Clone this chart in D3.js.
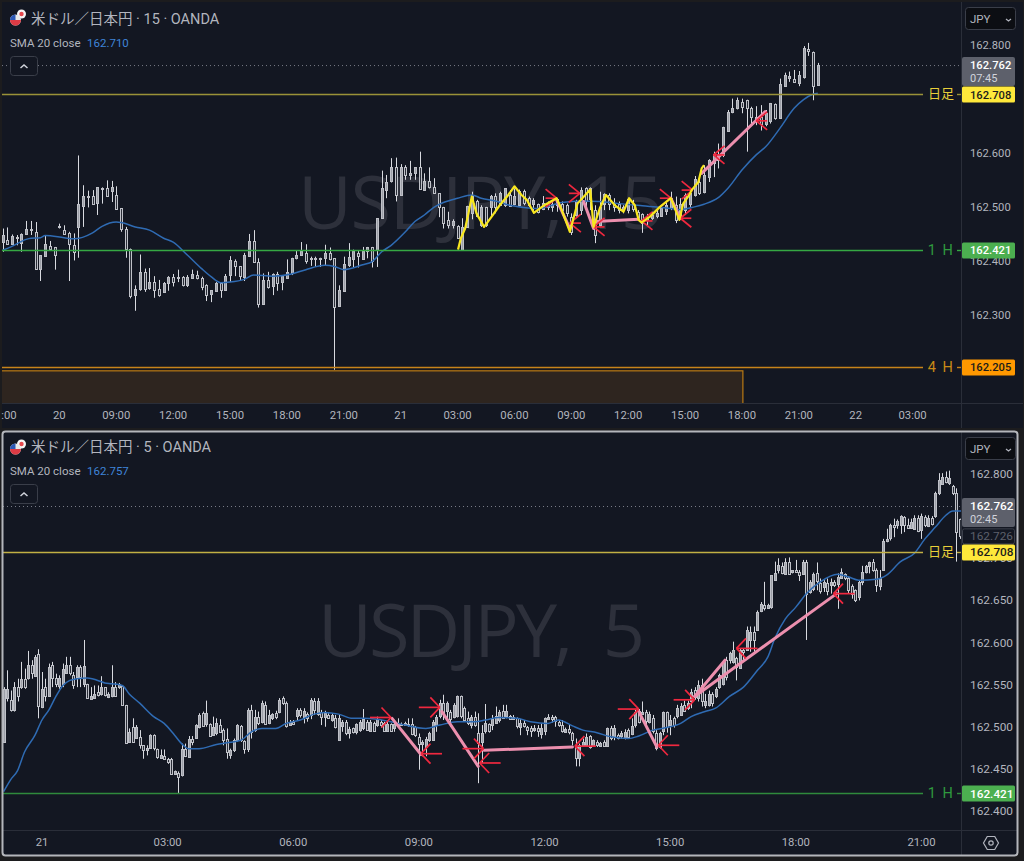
<!DOCTYPE html>
<html><head><meta charset="utf-8">
<script src="https://cdn.jsdelivr.net/npm/d3@7/dist/d3.min.js"></script>
<style>html,body{margin:0;padding:0;background:#1c1c1e}svg{display:block}
text{font-family:Roboto,"Noto Sans CJK JP",sans-serif}</style></head><body>
<script>
// all prices are thousandths above 162.000: [open, high, low, close]
const bars15=[[435,460,417,448],[438,462,431,431],[432,449,432,446],[445,448,429,443],[432,451,417,449],[450,474,448,460],[458,474,448,459],[454,472,384,386],[386,411,363,411],[409,448,408,432],[427,437,419,422],[425,426,384,411],[463,469,460,465],[458,466,450,451],[451,454,363,430],[430,451,401,417],[463,595,406,506],[501,540,463,520],[518,530,499,520],[520,531,505,505],[506,536,485,536],[534,536,506,533],[534,549,520,520],[528,548,509,536],[522,538,495,497],[497,497,454,458],[460,463,406,423],[423,423,331,337],[337,355,308,349],[349,412,345,380],[380,386,343,349],[349,387,347,361],[361,372,332,347],[349,365,334,337],[343,361,343,360],[360,372,345,371],[371,376,353,361],[369,384,361,371],[371,372,353,357],[357,374,352,371],[369,384,368,376],[374,382,366,368],[369,371,346,353],[355,357,326,337],[339,346,324,346],[345,361,343,360],[360,361,332,347],[347,376,346,373],[374,409,361,401],[400,403,372,390],[390,390,363,371],[371,415,363,411],[409,450,408,437],[437,457,398,398],[398,405,314,321],[321,377,320,365],[365,380,349,352],[353,377,337,376],[376,380,345,360],[360,374,346,372],[369,403,368,380],[377,406,374,405],[405,419,403,411],[411,435,411,419],[414,431,395,400],[405,408,391,406],[406,408,389,405],[405,406,389,403],[405,430,392,414],[414,425,401,403],[405,405,199,315],[317,355,315,347],[345,408,345,394],[393,433,389,407],[405,421,388,419],[414,419,388,408],[405,426,403,419],[417,426,405,425],[425,426,388,399],[420,479,389,479],[479,567,479,534],[532,559,516,546],[547,590,545,573],[573,591,510,522],[522,579,522,574],[573,577,550,559],[560,585,550,563],[562,573,550,573],[573,602,532,532],[532,562,532,548],[548,573,534,536],[536,553,525,525],[525,525,481,500],[499,500,460,470],[476,491,460,466],[466,477,460,474],[465,466,442,442],[420,479,420,463],[463,502,463,502],[488,528,477,522],[510,513,481,482],[466,503,463,499],[499,500,463,466],[500,522,482,520],[520,525,488,500],[503,528,503,526],[502,534,500,534],[522,531,500,502],[505,534,503,520],[505,532,500,530],[530,532,503,508],[516,519,500,503],[505,516,488,513],[505,506,488,491],[497,520,494,508],[508,510,494,500],[500,513,491,505],[502,516,491,514],[506,510,491,494],[503,506,482,488],[481,488,448,454],[485,513,482,510],[494,536,485,531],[534,536,494,510],[513,536,494,534],[494,503,433,448],[466,528,463,500],[506,525,494,524],[522,525,494,506],[505,516,491,500],[505,510,488,494],[494,503,488,500],[494,516,488,514],[505,513,491,495],[491,494,476,482],[487,488,452,471],[476,487,466,481],[479,491,476,485],[483,497,479,489],[483,500,482,497],[491,510,485,503],[497,528,494,516],[503,519,470,476],[481,516,476,506],[494,525,485,522],[505,528,500,525],[522,557,519,552],[546,559,522,525],[528,577,525,559],[555,588,546,586],[580,602,555,597],[596,617,571,586],[596,648,592,647],[641,679,639,676],[674,700,673,682],[682,702,680,697],[694,700,673,685],[697,698,602,682],[682,685,654,666],[666,686,651,663],[666,688,641,653],[653,679,649,673],[657,692,654,691],[690,691,661,665],[665,737,663,727],[723,748,723,743],[739,750,731,742],[737,753,729,731],[729,751,723,743],[739,797,737,793],[791,803,779,788],[787,787,697,725],[725,766,725,762]];
const bars5=[[482,547,482,545],[534,567,530,545],[532,543,518,520],[520,553,518,547],[547,557,530,536],[547,577,545,557],[557,569,545,547],[557,590,556,573],[573,579,557,563],[561,585,559,583],[586,592,510,524],[524,565,522,545],[547,557,530,536],[537,575,536,571],[573,577,547,557],[558,563,547,551],[549,561,545,558],[551,575,547,569],[563,583,563,573],[573,583,561,563],[561,565,545,549],[559,573,547,571],[571,573,547,559],[551,603,547,572],[551,551,534,534],[534,547,534,537],[534,549,534,539],[541,549,536,537],[539,560,537,547],[547,547,536,537],[535,541,534,539],[536,573,535,547],[547,553,536,536],[547,552,545,551],[548,549,526,526],[526,526,481,481],[482,498,481,494],[500,510,482,482],[487,502,487,500],[488,496,474,478],[478,478,462,472],[473,478,466,475],[474,491,474,490],[490,491,472,474],[473,474,462,463],[463,473,462,466],[465,473,462,462],[462,463,456,458],[462,463,443,444],[444,448,443,447],[445,447,421,440],[443,480,441,474],[474,480,464,466],[465,489,464,486],[486,489,478,483],[487,503,486,502],[500,516,498,514],[516,518,500,501],[503,531,500,516],[503,504,488,489],[490,512,489,500],[492,510,490,504],[502,509,493,494],[496,498,478,484],[486,498,462,470],[466,474,462,472],[472,486,470,484],[484,503,482,502],[501,502,482,484],[483,484,468,473],[474,522,470,520],[520,526,486,494],[496,520,494,512],[511,518,502,504],[505,531,504,528],[526,530,503,504],[505,520,503,514],[510,516,508,515],[516,519,509,511],[518,534,516,532],[534,536,526,528],[528,530,499,501],[503,508,502,506],[506,508,502,504],[513,522,508,520],[520,522,511,514],[512,522,504,519],[515,517,506,510],[514,534,509,532],[531,534,514,520],[516,534,513,531],[518,520,502,512],[511,519,500,516],[514,516,510,511],[508,516,506,514],[510,514,498,499],[484,514,484,510],[501,508,494,506],[506,508,490,493],[492,500,486,497],[498,499,492,493],[493,504,491,503],[496,508,494,506],[498,521,496,509],[506,508,495,497],[495,508,494,506],[505,506,494,495],[502,512,500,509],[506,508,499,502],[504,506,494,495],[495,506,494,503],[503,504,494,495],[498,508,494,503],[503,510,501,502],[502,505,501,503],[502,506,501,504],[503,510,500,502],[503,510,490,491],[500,501,488,490],[488,492,449,480],[480,484,465,482],[477,488,465,486],[484,494,482,492],[485,508,484,506],[501,514,494,511],[512,532,510,528],[528,538,508,516],[518,530,506,528],[518,520,500,510],[512,528,510,526],[512,537,511,536],[536,537,510,512],[522,524,506,508],[510,518,502,504],[502,514,498,512],[512,518,500,503],[492,516,433,480],[482,502,457,493],[494,527,492,504],[503,504,493,495],[502,514,496,509],[505,524,504,513],[508,520,505,518],[519,526,510,511],[513,526,510,519],[513,514,508,510],[510,514,508,512],[510,511,498,501],[499,509,490,504],[504,508,499,501],[500,501,490,497],[498,501,488,495],[497,502,494,499],[499,502,488,495],[492,504,486,499],[494,511,490,510],[509,515,508,511],[512,514,505,510],[511,513,500,506],[506,508,500,502],[502,508,493,495],[494,499,493,497],[497,502,491,493],[493,494,478,485],[476,486,453,463],[463,480,453,478],[477,486,476,482],[478,492,476,488],[489,490,474,476],[477,485,476,484],[482,484,476,478],[477,482,476,481],[482,484,476,477],[477,499,476,498],[498,501,484,486],[488,502,484,498],[490,492,485,487],[488,495,486,492],[488,497,485,494],[496,498,486,488],[492,510,490,501],[502,520,499,518],[519,521,504,506],[516,530,514,518],[517,520,498,506],[506,518,504,515],[510,514,492,495],[492,496,472,474],[476,494,474,493],[494,518,490,517],[517,518,493,499],[502,514,490,508],[510,512,499,502],[512,526,510,522],[514,528,513,525],[526,531,518,519],[522,531,520,528],[530,545,522,541],[544,547,532,536],[534,555,530,549],[549,557,524,530],[526,539,522,531],[526,543,524,539],[539,541,524,528],[537,547,534,545],[547,563,545,561],[551,579,549,577],[579,583,555,559],[579,589,575,587],[577,601,575,591],[582,583,555,571],[570,593,569,591],[591,593,579,589],[591,619,591,615],[603,619,589,613],[613,619,589,603],[615,638,615,636],[638,648,636,646],[644,672,638,640],[642,646,640,645],[642,680,640,680],[674,696,674,682],[686,700,682,692],[691,695,681,683],[682,700,682,696],[696,701,681,682],[684,686,682,686],[686,698,684,684],[684,686,673,681],[682,698,681,696],[696,698,603,658],[660,674,658,672],[663,683,661,681],[682,695,662,672],[671,676,658,662],[666,674,660,672],[671,676,656,661],[668,676,658,672],[672,674,666,668],[670,682,640,678],[677,688,676,684],[681,682,674,676],[676,678,658,662],[667,669,652,658],[662,663,648,650],[654,674,650,672],[672,691,668,684],[684,692,682,691],[690,696,682,695],[696,699,684,686],[686,688,660,668],[666,686,662,676],[687,723,686,721],[721,735,719,723],[723,741,721,739],[739,747,725,737],[739,746,735,744],[739,751,729,750],[749,750,731,739],[739,747,735,736],[736,747,735,743],[735,751,734,748],[748,751,731,733],[733,753,723,750],[749,751,737,739],[739,751,737,748],[748,750,739,741],[750,779,748,777],[777,801,775,793],[789,801,787,797],[797,803,789,791],[789,804,787,795],[786,787,775,778],[777,783,696,731],[746,747,723,726]];
// [bar index, price]
const sma15=[[0,420],[2,427],[5,440],[6,442],[8,443],[9,447],[13,443],[15,441],[19,452],[21,464],[24,472],[25,471],[28,463],[31,457],[34,442],[36,435],[39,411],[42,386],[44,371],[46,360],[48,361],[51,366],[53,374],[57,372],[61,376],[64,384],[68,392],[70,390],[72,384],[76,393],[78,399],[80,417],[82,429],[85,454],[87,473],[89,485],[91,499],[93,508],[96,516],[99,522],[101,516],[104,511],[107,503],[110,499],[113,497],[118,508],[122,511],[126,510],[130,506],[135,502],[139,499],[143,495],[146,500],[148,505],[151,517],[153,534],[156,568],[159,596],[161,611],[164,645],[167,682],[169,698],[171,708],[172,710]];
const sma5=[[1,423],[3,437],[5,448],[7,470],[10,490],[12,508],[14,520],[16,536],[18,549],[20,555],[22,557],[25,558],[28,555],[30,552],[32,551],[35,549],[37,539],[40,528],[44,512],[47,504],[50,490],[52,480],[54,474],[57,474],[62,479],[65,481],[69,484],[72,494],[75,498],[79,498],[82,504],[86,508],[90,515],[93,517],[97,515],[101,510],[104,510],[108,509],[112,506],[116,502],[122,498],[126,502],[131,506],[136,506],[139,508],[143,511],[148,510],[152,506],[157,504],[160,508],[164,501],[167,496],[171,493],[175,488],[180,486],[183,489],[187,496],[191,499],[195,504],[198,512],[202,518],[205,522],[209,536],[213,547],[217,567],[220,583],[222,605],[225,628],[228,642],[231,658],[235,672],[240,681],[243,678],[246,674],[251,675],[254,680],[258,696],[262,706],[265,723],[268,737],[271,751],[273,756],[276,756]];
const yellow15=[[96.1,421],[96.7,442],[97.6,460],[98.3,488],[99,519],[100,488],[101.6,463],[103.2,482],[104.9,503],[106.7,522],[108,538],[109.5,522],[110.6,513],[112.1,489],[114.1,502],[116.9,516],[118,494],[119.7,454],[121.3,506],[124,532],[124.7,463],[126,497],[127.3,522],[129.2,503],[131,491],[132.2,516],[133.4,503],[134.2,476],[134.8,471],[136.6,482],[138.7,500],[141,516],[142.8,476],[143.6,506],[144.9,522],[145.4,531],[146.8,546],[147.5,571],[148,577]];
const pink15=[[[116.9,513],[119.7,460]],[[122.6,510],[124.7,460]],[[125,473],[134.2,477]],[[141,516],[143,479]],[[147.5,562],[160.9,676]]];
const pink5=[[[112.3,510],[120.6,467]],[[126.6,518],[137,453]],[[138.7,472],[164,476]],[[183,518],[188.2,476]],[[199,536],[207.7,579]],[[199,536],[239.7,658]]];
// [bar, price, direction the tip faces: 1 right, -1 left]
const arrows15=[[116.9,516,1],[119.7,470,-1],[121.8,525,1],[124.7,463,-1],[134.8,474,-1],[141,516,1],[143,479,-1],[145.6,531,1],[150,596,-1],[159,659,-1]];
const arrows5=[[112,511,1],[120.6,468,-1],[126,523,1],[138.5,474,1],[137.4,457,-1],[164.7,477,-1],[183,521,1],[188.6,478,-1],[199,532,1],[211,593,-1],[238.8,658,-1]];
const ticks15=[[0,":00"],[12,"20"],[24,"09:00"],[36,"12:00"],[48,"15:00"],[60,"18:00"],[72,"21:00"],[84,"21"],[96,"03:00"],[108,"06:00"],[120,"09:00"],[132,"12:00"],[144,"15:00"],[156,"18:00"],[168,"21:00"],[180,"22"],[192,"03:00"]];
const ticks5=[[12,"21"],[48,"03:00"],[84,"06:00"],[120,"09:00"],[156,"12:00"],[192,"15:00"],[228,"18:00"],[264,"21:00"]];
const priceTicks15=[162.8,162.6,162.5,162.4,162.3];
const priceTicks5=[162.8,162.7,162.65,162.6,162.55,162.5,162.45,162.4];
const levels15=[{p:162.708,name:"日足",line:"#9a9238",text:"#e8cf3a",tag:"#ffe83b",tagText:"#1b1b1b"},{p:162.421,name:"1 H",line:"#35a843",text:"#2f9a3e",tag:"#4caf50",tagText:"#fff"},{p:162.205,name:"4 H",line:"#c7831a",text:"#c98a16",tag:"#ff9800",tagText:"#1b1b1b"}];
const levels5=[{p:162.708,name:"日足",line:"#c2b044",text:"#e8cf3a",tag:"#ffe83b",tagText:"#1b1b1b"},{p:162.421,name:"1 H",line:"#2f8a3c",text:"#2f9a3e",tag:"#4caf50",tagText:"#fff"}];

const BG="#131722",GRID="#2a2e39",TXT="#b2b5be";
const svg=d3.select("body").append("svg").attr("width",1024).attr("height",861);
svg.append("rect").attr("width",1024).attr("height",861).attr("fill","#1c1c1e");
const fmt=d3.format(".3f");
const P=v=>162+v/1000;

function panel(o){
 const g=svg.append("g");
 g.append("rect").attr("x",o.L).attr("y",o.T).attr("width",o.R-o.L).attr("height",o.B-o.T).attr("fill",BG);
 const x=d3.scaleLinear().domain([0,100]).range([o.x0,o.x0+o.step*100]);
 const y=d3.scaleLinear().domain([162.8,162.4]).range([o.y800,o.y400]);
 const plotW=o.axisX;
 const id="clip"+o.id;
 svg.append("clipPath").attr("id",id).append("rect").attr("x",o.L).attr("y",o.T).attr("width",plotW-o.L).attr("height",o.axisY-o.T);
 const plot=g.append("g").attr("clip-path",`url(#${id})`);
 plot.append("text").attr("x",o.wmX).attr("y",o.wmY).attr("font-size",o.wmSize).attr("fill","#2d303b").style("font-family",'"Open Sans",sans-serif').attr("textLength",o.wmLen).attr("xml:space","preserve").text(o.wm);
 plot.append("line").attr("x1",o.L).attr("x2",plotW).attr("y1",y(162.762)+.5).attr("y2",y(162.762)+.5).attr("stroke","#787b86").attr("stroke-dasharray","1 3");
 if(o.box){const yTop=y(o.box.p);
  plot.append("rect").attr("x",o.L-2).attr("y",yTop+.5).attr("width",x(o.box.end)-o.L+2).attr("height",o.axisY-yTop+3).attr("fill","#2e251f").attr("stroke","#b97a14").attr("stroke-width",1.2);}
 o.levels.forEach(l=>{const yy=Math.round(y(l.p))+.5;
  g.append("line").attr("x1",o.L).attr("x2",923).attr("y1",yy).attr("y2",yy).attr("stroke",l.line).attr("stroke-width",1.4);
  g.append("line").attr("x1",957).attr("x2",961).attr("y1",yy).attr("y2",yy).attr("stroke",l.line).attr("stroke-width",1.4);});
 const c=plot.selectAll("g.c").data(o.bars).join("g");
 const cx=(d,i)=>Math.round(x(i+o.first))+.5;
 c.append("line").attr("x1",cx).attr("x2",cx).attr("y1",d=>y(P(d[1]))).attr("y2",d=>y(P(d[2]))).attr("stroke","#d8dae0");
 c.append("rect").attr("x",(d,i)=>cx(d,i)-1).attr("width",2)
  .attr("y",d=>Math.round(y(P(Math.max(d[0],d[3]))))+.5)
  .attr("height",d=>Math.max(1,Math.round(Math.abs(y(P(d[0]))-y(P(d[3]))))))
  .attr("fill",d=>d[3]>=d[0]?"#9da0a8":"#2a2e38").attr("stroke","#bfc1c8");
 const ln=d3.line().x(d=>x(d[0])).y(d=>y(P(d[1])));
 plot.append("path").attr("d",ln.curve(d3.curveMonotoneX)(o.sma)).attr("fill","none").attr("stroke","#2f6bb3").attr("stroke-width",1.5);
 ln.curve(d3.curveLinear);
 o.pink.forEach(s=>plot.append("path").attr("d",ln(s)).attr("fill","none").attr("stroke","#ec8fae").attr("stroke-width",o.pinkW).attr("stroke-linecap","round"));
 const a=o.arrow;
 o.arrows.forEach(([b,v,dir])=>{const tx=x(b),ty=y(P(v));
  [[a.shaft,0],[a.bx,-a.by],[a.bx,a.by]].forEach(([dx,dy])=>plot.append("line").attr("x1",tx).attr("y1",ty).attr("x2",tx-dir*dx).attr("y2",ty+dy).attr("stroke","#f0283f").attr("stroke-width",1.7));});
 if(o.yellow)plot.append("path").attr("d",ln(o.yellow)).attr("fill","none").attr("stroke","#f8e71f").attr("stroke-width",2.2).attr("stroke-linejoin","round");
 g.append("line").attr("x1",o.axisX+.5).attr("x2",o.axisX+.5).attr("y1",o.T).attr("y2",o.B).attr("stroke",GRID);
 g.append("line").attr("x1",o.L).attr("x2",o.R).attr("y1",o.axisY+.5).attr("y2",o.axisY+.5).attr("stroke",GRID);
 g.selectAll("text.t").data(o.ticks).join("text").attr("x",d=>Math.max(x(d[0]),9)).attr("y",o.axisY+16).attr("text-anchor","middle").attr("font-size",11.3).attr("fill",TXT).text(d=>d[1]);
 g.selectAll("text.p").data(o.pticks).join("text").attr("x",970).attr("y",d=>y(d)+4).attr("font-size",o.pSize).attr("fill",TXT).text(fmt);
 const cy=y(162.762);
 g.append("rect").attr("x",962).attr("y",cy-8).attr("width",53).attr("height",29).attr("rx",2).attr("fill","#5d606b");
 g.append("text").attr("x",970).attr("y",cy+4).attr("font-size",o.pSize).attr("font-weight",500).attr("fill","#fff").text("162.762");
 g.append("text").attr("x",970).attr("y",cy+17).attr("font-size",11).attr("fill","#d1d4dc").text(o.countdown);
 if(o.extraTag){const ey=y(o.extraTag);
  g.append("rect").attr("x",962.5).attr("y",ey-7.5).attr("width",52).attr("height",15).attr("rx",2).attr("fill",BG).attr("stroke","#3c404b");
  g.append("text").attr("x",970).attr("y",ey+4).attr("font-size",o.pSize).attr("fill","#5d606b").text(fmt(o.extraTag));}
 o.levels.forEach(l=>{const yy=y(l.p);
  g.append("rect").attr("x",962).attr("y",Math.round(yy)-7.5).attr("width",53).attr("height",16).attr("rx",1.5).attr("fill",l.tag);
  g.append("text").attr("x",970).attr("y",yy+4.5).attr("font-size",o.pSize).attr("font-weight",500).attr("fill",l.tagText).text(fmt(l.p));
  const isH=l.name!="日足";
  g.append("text").attr("x",941).attr("y",yy+(isH?5:4)).attr("text-anchor","middle").attr("font-size",isH?14.5:13).attr("letter-spacing",isH?"1.5px":"0").attr("fill",l.text).text(l.name);});
 const fl=g.append("g").attr("transform",`translate(0,${o.T})`);
 fl.append("circle").attr("cx",21.5).attr("cy",12).attr("r",4.5).attr("fill","#f5f5f5");
 fl.append("circle").attr("cx",21.5).attr("cy",12).attr("r",2.2).attr("fill","#e5484d");
 fl.append("circle").attr("cx",15.5).attr("cy",o.flagY).attr("r",5.5).attr("fill","#e8e8e8");
 fl.append("path").attr("d",d3.arc()({innerRadius:0,outerRadius:5.5,startAngle:-Math.PI/2,endAngle:Math.PI/2})).attr("transform",`translate(15.5,${o.flagY}) rotate(180)`).attr("fill","#dd3b45");
 fl.append("path").attr("d",d3.arc()({innerRadius:0,outerRadius:5.5,startAngle:-Math.PI/2,endAngle:0})).attr("transform",`translate(15.5,${o.flagY})`).attr("fill","#2c58b5");
 g.append("text").attr("x",31).attr("y",o.titleY).attr("font-size",14.5).attr("fill",TXT).text(o.title);
 g.append("text").attr("x",10).attr("y",o.titleY+23).attr("font-size",11.5).attr("fill",TXT).text("SMA 20 close");
 g.append("text").attr("x",87).attr("y",o.titleY+23).attr("font-size",11.5).attr("fill","#3f84d8").text(o.smaVal);
 g.append("rect").attr("x",10.5).attr("y",o.titleY+32.5).attr("width",27).attr("height",19).attr("rx",3).attr("fill",BG).attr("stroke","#3a3e49");
 g.append("path").attr("d",`M20.5 ${o.titleY+44}l3.5 -3l3.5 3`).attr("fill","none").attr("stroke","#d1d4dc").attr("stroke-width",1.5);
 g.append("rect").attr("x",965.5).attr("y",o.T+5.5).attr("width",50).attr("height",22).attr("rx",3).attr("fill","#0c0e13").attr("stroke","#3a3e49");
 g.append("text").attr("x",970).attr("y",o.T+21).attr("font-size",11.5).attr("fill",TXT).text("JPY");
 g.append("path").attr("d",`M1006 ${o.T+17}l2.5 2l2.5 -2`).attr("fill","none").attr("stroke",TXT).attr("stroke-width",1.2);
}

panel({id:"a",L:2,R:1023,T:2,B:428,axisX:961,axisY:403,x0:2.5,step:4.74,y800:44.5,y400:261,first:0,bars:bars15,sma:sma15,pSize:11.2,
 pink:pink15,pinkW:3,arrows:arrows15,arrow:{shaft:11,bx:11,by:9},yellow:yellow15,ticks:ticks15,pticks:priceTicks15,levels:levels15,
 box:{p:162.198,end:156.2},wm:"USDJPY, 15",wmX:298,wmY:229,wmSize:74,wmLen:365,countdown:"07:45",title:"米ドル／日本円 · 15 · OANDA",smaVal:"162.710",titleY:24,flagY:18});
panel({id:"b",L:3,R:1018,T:432,B:855,axisX:961,axisY:830,x0:0.1,step:3.49,y800:474,y400:811,first:1,bars:bars5,sma:sma5,pSize:11.8,
 pink:pink5,pinkW:3,arrows:arrows5,arrow:{shaft:21,bx:9.5,by:10},ticks:ticks5,pticks:priceTicks5,levels:levels5,extraTag:162.726,
 wm:"USDJPY,  5",wmX:318,wmY:657,wmSize:74,wmLen:327,countdown:"02:45",title:"米ドル／日本円 · 5 · OANDA",smaVal:"162.757",titleY:452,flagY:17});

svg.append("rect").attr("x",2.5).attr("y",431.5).attr("width",1015).attr("height",424).attr("rx",3).attr("fill","none").attr("stroke","#b4b6bb").attr("stroke-width",2);
const hex=d3.range(6).map(k=>{const a=Math.PI/3*k;return [991+7.5*Math.cos(a),843+7.5*Math.sin(a)];});
svg.append("path").attr("d",d3.line()(hex)+"Z").attr("fill","none").attr("stroke",TXT).attr("stroke-width",1.2);
svg.append("circle").attr("cx",991).attr("cy",843).attr("r",2.2).attr("fill","none").attr("stroke",TXT).attr("stroke-width",1.2);
</script></body></html>
